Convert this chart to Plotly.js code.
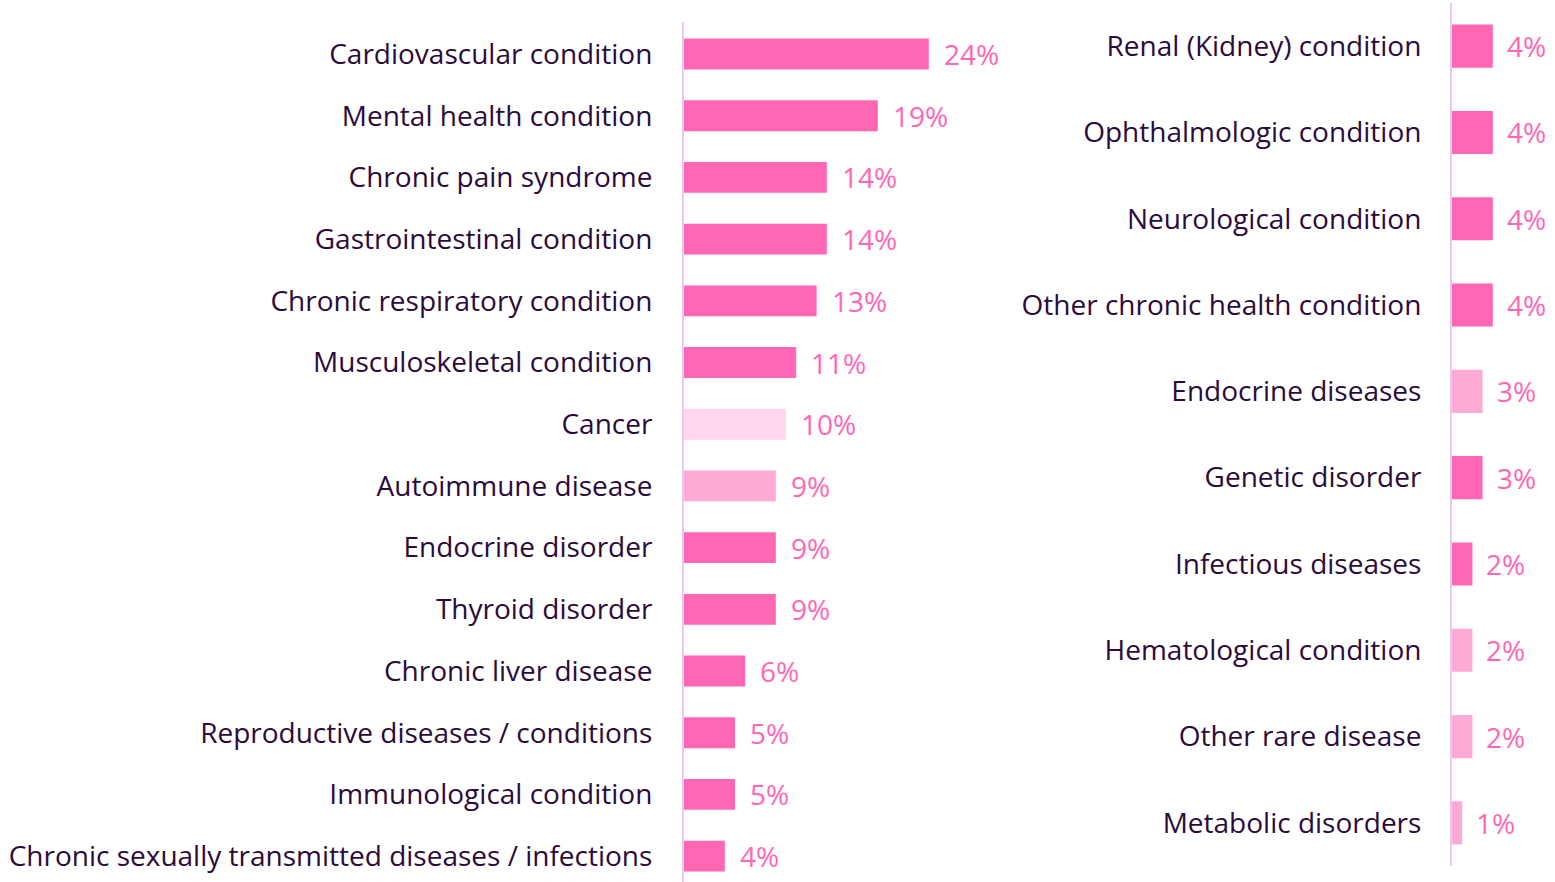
<!DOCTYPE html>
<html>
<head>
<meta charset="utf-8">
<script src="https://cdn.plot.ly/plotly-3.0.1.min.js"></script>
<style>
html,body{margin:0;padding:0;background:#fff;}
#chart{width:1555px;height:882px;}
</style>
</head>
<body>
<div id="chart"></div>
<script>
// Left panel
var leftCategories = [
  "Cardiovascular condition","Mental health condition","Chronic pain syndrome",
  "Gastrointestinal condition","Chronic respiratory condition","Musculoskeletal condition",
  "Cancer","Autoimmune disease","Endocrine disorder","Thyroid disorder",
  "Chronic liver disease","Reproductive diseases / conditions","Immunological condition",
  "Chronic sexually transmitted diseases / infections"
];
var leftValues = [24, 19, 14, 14, 13, 11, 10, 9, 9, 9, 6, 5, 5, 4];
var leftShade = ["main","main","main","main","main","main","pale","light","main","main","main","main","main","main"];

// Right panel
var rightCategories = [
  "Renal (Kidney) condition","Ophthalmologic condition","Neurological condition",
  "Other chronic health condition","Endocrine diseases","Genetic disorder",
  "Infectious diseases","Hematological condition","Other rare disease","Metabolic disorders"
];
var rightValues = [4, 4, 4, 4, 3, 3, 2, 2, 2, 1];
var rightShade = ["main","main","main","main","light","main","main","light","light","light"];

var palette = {main:"#FF66B3", light:"#FFA9D5", pale:"#FFD6EC"};
var labelColor = "#FF66B3";
var textColor = "#2B0B3B";
var axisColor = "#E9C9F7";
var FONT = "'Open Sans', sans-serif";
var FS = 28;
var W = 1555, H = 882;

var traces = [
  {type:"bar", orientation:"h", y:leftCategories, x:leftValues,
   marker:{color:leftShade.map(function(s){return palette[s];})},
   width:0.5, xaxis:"x", yaxis:"y", hoverinfo:"skip", cliponaxis:false},
  {type:"bar", orientation:"h", y:rightCategories, x:rightValues,
   marker:{color:rightShade.map(function(s){return palette[s];})},
   width:0.5, xaxis:"x2", yaxis:"y2", hoverinfo:"skip", cliponaxis:false}
];

var annotations = [];
leftCategories.forEach(function(c,i){
  annotations.push({xref:"x", yref:"y", x:leftValues[i], y:c, text:leftValues[i]+"%",
    showarrow:false, xanchor:"left", yanchor:"middle", xshift:13, yshift:0,
    font:{family:FONT, size:FS, color:labelColor}});
});
rightCategories.forEach(function(c,i){
  annotations.push({xref:"x2", yref:"y2", x:rightValues[i], y:c, text:rightValues[i]+"%",
    showarrow:false, xanchor:"left", yanchor:"middle", xshift:12, yshift:0,
    font:{family:FONT, size:FS, color:labelColor}});
});

// pixel scale ~10.2 px per percent in both panels
var pxPer = 10.2;
var lx0 = 684, lx1 = 1010;
var rx0 = 1452, rx1 = 1555;

var layout = {
  width:W, height:H,
  margin:{l:0,r:0,t:0,b:0,pad:0},
  paper_bgcolor:"#fff", plot_bgcolor:"rgba(0,0,0,0)",
  showlegend:false,
  font:{family:FONT, color:textColor},
  xaxis:{domain:[lx0/W, lx1/W], range:[0,(lx1-lx0)/pxPer], visible:false, fixedrange:true},
  xaxis2:{domain:[rx0/W, rx1/W], range:[0,(rx1-rx0)/pxPer], visible:false, fixedrange:true},
  yaxis:{domain:[0, 1-22/H], anchor:"x", type:"category",
    range:[(882-54)/61.7, (22-54)/61.7],
    showline:true, linecolor:axisColor, linewidth:2, showgrid:false, zeroline:false,
    ticks:"", ticklabelstandoff:24,
    tickfont:{family:FONT, size:FS, color:textColor}},
  yaxis2:{domain:[16/H, 1-3/H], anchor:"x2", type:"category",
    range:[9.5,-0.5],
    showline:true, linecolor:axisColor, linewidth:2, showgrid:false, zeroline:false,
    ticks:"", ticklabelstandoff:23,
    tickfont:{family:FONT, size:FS, color:textColor}},
  annotations:annotations
};

Plotly.newPlot("chart", traces, layout, {displayModeBar:false, staticPlot:true});
</script>
</body>
</html>
